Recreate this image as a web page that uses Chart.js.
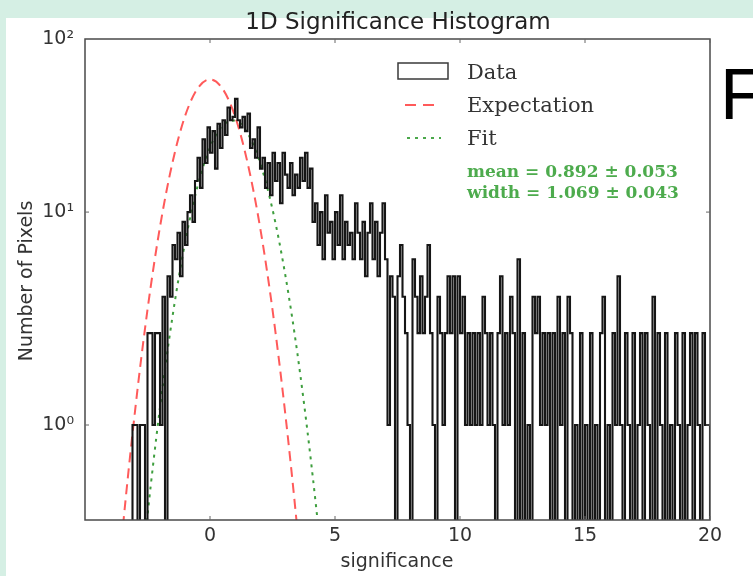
<!DOCTYPE html>
<html><head><meta charset="utf-8">
<script src="https://cdn.jsdelivr.net/npm/chart.js@4"></script>
<style>
html,body{margin:0;padding:0;background:#d5efe4;width:753px;height:576px;overflow:hidden;}
#panel{position:absolute;left:6px;top:18px;width:747px;height:558px;background:#fff;}
#wrap{position:absolute;left:0;top:0;width:753px;height:576px;}
</style></head><body>
<div id="panel"></div>
<div id="wrap"><canvas id="c" width="753" height="576"></canvas></div>
<script>
// ---- data ----
const binStart = -5;
const binWidth = 0.1;
const counts = [
  // -5.0 .. -3.2
  0,0,0,0,0,0,0,0,0,0,0,0,0,0,0,0,0,0,0,
  // -3.1 .. -1.5
  1,1,0,1,1,0,2.7,2.7,1,2.7,2.7,1,4,0,5,4,7,
  // -1.4 .. 1.5
  6,8,5,9,7,10,12,9,14,18,13,22,17,25,19,24,16,26,20,27,23,31,27,28,34,27,25,28,24,29,
  // 1.6 .. 4.5
  20,22,18,25,16,18,13,17,12,19,14,17,11,19,15,13,17,12,15,13,18,14,19,13,16,9,11,7,10,6,
  // 4.6 .. 6.4
  12,8,9,6,10,7,12,6,9,7,8,6,11,8,6,9,5,8,11,
  // 6.5 .. 9.9
  6,9,5,8,11,6,1,5,4,0,5,7,4,2.7,1,0,6,4,2.7,5,2.7,4,7,2.7,1,0,4,2.7,1,2.7,5,2.7,5,0,5,
  // 10.0 .. 12.9
  2.7,4,1,2.7,1,2.7,1,2.7,1,4,2.7,1,2.7,1,0,2.7,5,1,2.7,1,4,2.7,0,6,0,2.7,0,1,0,4,
  // 13.0 .. 15.9
  2.7,4,1,2.7,1,2.7,0,2.7,0,4,1,2.7,0,4,2.7,0,1,0,2.7,0,1,0,2.7,0,1,0,2.7,4,0,1,
  // 16.0 .. 18.9
  0,2.7,1,5,1,0,2.7,1,0,2.7,0,1,2.7,0,2.7,1,0,4,0,2.7,1,0,2.7,0,1,0,2.7,1,0,2.7,
  // 19.0 .. 19.9
  0,1,2.7,0,2.7,1,0,2.7,1,1
];
const expectX = [-4,-3.5,-3,-2.5,-2,-1.5,-1,-0.5,0,0.5,1,1.5,2,2.5,3,3.5,4];
const expectY = [0.071,0.318,1.16,3.48,8.53,17.1,28.2,38.0,42,38.0,28.2,17.1,8.53,3.48,1.16,0.318,0.071];
const fitX = [-3,-2.5,-2,-1.5,-1,-0.5,0,0.5,1,1.5,2,2.5,3,3.5,4,4.5,5];
const fitY = [0.097,0.377,1.21,3.23,7.16,13.2,20.1,25.5,26.9,23.5,17.1,10.3,5.16,2.15,0.741,0.213,0.05];
const xTickValues = [0,5,10,15,20];
const yTickValues = [1,10,65];
const yTickLabels = ['10\u2070','10\u00B9','10\u00B2'];
const xRange = [-5,20];
const yRange = [0.358,65];
const legendLabels = ['Data','Expectation','Fit'];
const fitText = ['mean = 0.892 \u00B1 0.053','width = 1.069 \u00B1 0.043'];

// empty bins sit below the visible log range (clipped at the axis bottom, like matplotlib)
const zeroFloor = yRange[0] / 20;
const histPoints = counts.map((c,i)=>({x: binStart + i*binWidth, y: c > 0 ? c : zeroFloor}));
histPoints.push({x: binStart + counts.length*binWidth, y: zeroFloor});
const expPoints = expectX.map((x,i)=>({x, y: expectY[i]}));
const fitPoints = fitX.map((x,i)=>({x, y: fitY[i]}));

const SANS = '"DejaVu Sans", sans-serif';
const SERIF = '"DejaVu Serif", serif';

const overlay = {
  id: 'overlay',
  afterDatasetsDraw(chart) {
    const {ctx, chartArea: a, scales: {x, y}} = chart;
    ctx.save();
    const seg = (x1,y1,x2,y2)=>{ctx.beginPath();ctx.moveTo(x1,y1);ctx.lineTo(x2,y2);ctx.stroke();};
    // frame
    ctx.strokeStyle = '#4a4a4a'; ctx.lineWidth = 1.5; ctx.setLineDash([]);
    ctx.strokeRect(a.left, a.top, a.right - a.left, a.bottom - a.top);
    ctx.lineWidth = 1; ctx.strokeStyle = '#666';
    xTickValues.forEach(v=>{const p=x.getPixelForValue(v); seg(p,a.bottom,p,a.bottom-4); seg(p,a.top,p,a.top+4);});
    yTickValues.slice(0,2).forEach(v=>{const p=y.getPixelForValue(v); seg(a.left,p,a.left+4,p); seg(a.right,p,a.right-4,p);});
    // legend
    ctx.fillStyle = '#fff'; ctx.strokeStyle = '#3a3a3a'; ctx.lineWidth = 1.5;
    ctx.fillRect(398,63,50,16); ctx.strokeRect(398,63,50,16);
    ctx.strokeStyle = '#ff5a5a'; ctx.lineWidth = 2; ctx.setLineDash([11,7]);
    seg(405,105,434,105);
    ctx.strokeStyle = '#4aa84a'; ctx.setLineDash([3,5]);
    seg(407,138,441,138);
    ctx.setLineDash([]);
    ctx.fillStyle = '#333'; ctx.font = '21px ' + SERIF; ctx.textAlign = 'left'; ctx.textBaseline = 'alphabetic';
    ctx.fillText(legendLabels[0], 467, 79);
    ctx.fillText(legendLabels[1], 467, 112);
    ctx.fillText(legendLabels[2], 467, 145);
    ctx.fillStyle = '#4dab4d'; ctx.font = 'bold 17px ' + SERIF;
    ctx.fillText(fitText[0], 467, 177);
    ctx.fillText(fitText[1], 467, 198);
    // titles
    ctx.fillStyle = '#222'; ctx.font = '23px ' + SANS; ctx.textAlign = 'center'; ctx.textBaseline = 'middle';
    ctx.fillText('1D Significance Histogram', 398, 23);
    ctx.fillStyle = '#333'; ctx.font = '19px ' + SANS;
    ctx.fillText('significance', 397, 562);
    ctx.save(); ctx.translate(27, 281); ctx.rotate(-Math.PI/2);
    ctx.fillText('Number of Pixels', 0, 0); ctx.restore();
    // stray letter at right
    ctx.fillStyle = '#000'; ctx.font = '72px "Liberation Sans", Arial, sans-serif'; ctx.textAlign = 'left'; ctx.textBaseline = 'alphabetic';
    ctx.fillText('F', 720, 119);
    ctx.restore();
  }
};

new Chart(document.getElementById('c'), {
  type: 'line',
  data: { datasets: [
    {label: legendLabels[0], data: histPoints, stepped: 'before', borderColor: '#161616', borderWidth: 2.1, pointRadius: 0, fill: false, clip: 0},
    {label: legendLabels[1], data: expPoints, borderColor: '#ff5a5a', borderDash: [10,6], borderWidth: 2, pointRadius: 0, fill: false, cubicInterpolationMode: 'monotone', clip: 0},
    {label: legendLabels[2], data: fitPoints, borderColor: '#3e9e3e', borderDash: [3,5], borderWidth: 2, pointRadius: 0, fill: false, cubicInterpolationMode: 'monotone', clip: 0}
  ]},
  options: {
    responsive: false, animation: false, devicePixelRatio: 1,
    layout: {padding: {left: 0, right: 43, top: 39, bottom: 0}},
    plugins: {legend: {display: false}, title: {display: false}, tooltip: {enabled: false}},
    scales: {
      x: {type: 'linear', min: xRange[0], max: xRange[1], grid: {display: false}, border: {display: false},
        afterBuildTicks: s => { s.ticks = xTickValues.map(v => ({value: v})); },
        afterFit: s => { s.height = 56; },
        ticks: {font: {family: SANS, size: 19}, color: '#333', padding: -3, maxRotation: 0, callback: v => String(v)}},
      y: {type: 'logarithmic', min: yRange[0], max: yRange[1], grid: {display: false}, border: {display: false},
        afterBuildTicks: s => { s.ticks = yTickValues.map(v => ({value: v})); },
        afterFit: s => { s.width = 85; },
        ticks: {font: {family: SANS, size: 19}, color: '#333', padding: 3,
          callback: (v) => { const i = yTickValues.indexOf(v); return i >= 0 ? yTickLabels[i] : ''; }}}
    }
  },
  plugins: [overlay]
});
</script>
</body></html>
